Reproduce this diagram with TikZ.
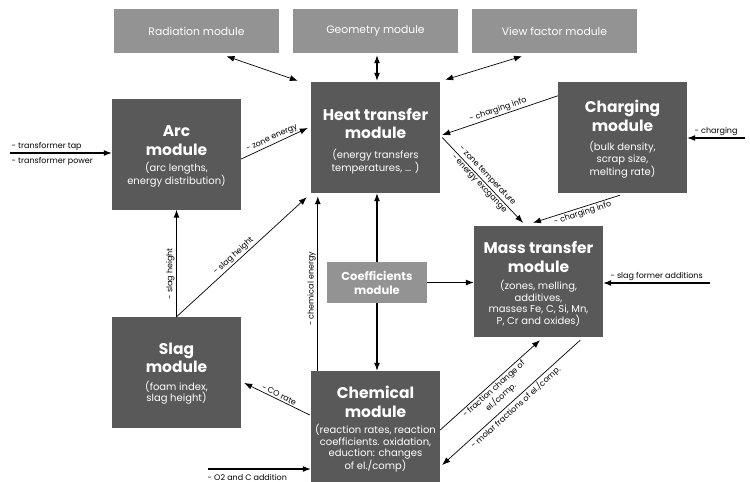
\documentclass[tikz,border=0pt]{standalone}
\usepackage{fontspec}
\setmainfont{Poppins}
\usetikzlibrary{arrows.meta}
\definecolor{darkbox}{HTML}{595959}
\definecolor{lightbox}{HTML}{939393}
\begin{document}
\begin{tikzpicture}[x=1pt,y=-1pt,
  box/.style={fill=darkbox, inner sep=0pt, minimum width=129pt, minimum height=111pt},
  topbox/.style={fill=lightbox, text=white, inner sep=0pt, minimum width=165pt, minimum height=44pt, font=\fontsize{10.8}{13}\selectfont},
  coefbox/.style={fill=lightbox, text=white, inner sep=0pt, minimum width=100pt, minimum height=41pt, align=center, font=\fontsize{11.5}{14}\selectfont\bfseries},
  ttl/.style={text=white, inner sep=0pt, align=center, font=\fontsize{15.5}{18.5}\selectfont\bfseries},
  sub/.style={text=white, inner sep=0pt, align=center, font=\fontsize{10}{11.5}\selectfont},
  tip/.style={-{Latex[length=8pt,width=6pt]}},
  straight/.style={tip, line width=1.1pt},
  slant/.style={tip, line width=0.7pt},
  both/.style={{Latex[length=8pt,width=6pt]}-{Latex[length=8pt,width=6pt]}},
  lab/.style={font=\fontsize{8}{9.5}\selectfont, inner sep=1.5pt, align=center},
]
\useasboundingbox (0,0) rectangle (750,482);

% top modules
\node[topbox] (rad) at (196.5,31) {Radiation module};
\node[topbox] (geo) at (375.5,31) {Geometry module};
\node[topbox] (vf)  at (554.5,31) {View factor module};

% main modules
\node[box] (arc) at (176.5,154) {};
\node[ttl] (arct) at ([yshift=13.5pt]arc.center) {Arc\\module};
\node[sub] (arcs) at ([yshift=-20.5pt]arc.center) {(arc lengths,\\energy distribution)};

\node[box] (heat) at (375.5,137.5) {};
\node[ttl] (heatt) at ([yshift=14pt]heat.center) {Heat transfer\\module};
\node[sub] (heats) at ([yshift=-24pt]heat.center) {(energy transfers\\temperatures, ... )};

\node[box] (chg) at (622.5,137.5) {};
\node[ttl] (chgt) at ([yshift=21.5pt]chg.center) {Charging\\module};
\node[sub] (chgs) at ([yshift=-22pt]chg.center) {(bulk density,\\scrap size,\\melting rate)};

\node[box] (mass) at (538.5,281.5) {};
\node[ttl] (masst) at ([yshift=24.5pt]mass.center) {Mass transfer\\module};
\node[sub] (masss) at ([yshift=-22pt]mass.center) {(zones, melling,\\additives,\\masses Fe, C, Si, Mn,\\P, Cr and oxides)};

\node[coefbox] (coef) at (377,282.5) {Coefficients\\module};

\node[box] (slag) at (176.5,372.5) {};
\node[ttl] (slagt) at ([yshift=14.5pt]slag.center) {Slag\\module};
\node[sub] (slags) at ([yshift=-20pt]slag.center) {(foam index,\\slag height)};

\node[box] (chem) at (375.5,426.5) {};
\node[ttl] (chemt) at ([yshift=24.5pt]chem.center) {Chemical\\module};
\node[sub] (chems) at ([yshift=-22pt]chem.center) {(reaction rates, reaction\\coefficients. oxidation,\\eduction: changes\\of el./comp)};

% free ends
\coordinate (tin) at (10,153);
\coordinate (chin) at (745,138);
\coordinate (sfin) at (710,283);
\coordinate (o2in) at (208,469);

% top connectors
\draw[both, line width=0.7pt] ([xshift=30pt,yshift=-3pt]rad.south) -- ([xshift=-13pt,yshift=1pt]heat.north west);
\draw[both, line width=1.1pt] ([xshift=1.5pt,yshift=-2pt]geo.south) -- ([xshift=1.5pt,yshift=1pt]heat.north);
\draw[both, line width=0.7pt] ([xshift=-32.5pt,yshift=-3pt]vf.south) -- ([xshift=5pt,yshift=2pt]heat.north east);

% external inputs
\draw[straight] (tin) -- (tin -| arc.west);
\node[lab, anchor=west] (tlab1) at (10,146) {- transformer tap};
\node[lab, anchor=west] (tlab2) at (10,161) {- transformer power};

\draw[straight] (chin) -- (chin -| chg.east) node[lab, midway, above] {- charging};
\draw[straight] (sfin) -- (sfin -| mass.east) node[lab, midway, above] {- slag former additions};
\draw[straight] (o2in) -- (o2in -| chem.west);
\node[lab, anchor=west] (o2lab) at (206,477.5) {- O2 and C addition};

% arc / slag / chemical to heat
\draw[slant] ([yshift=-5pt]arc.east) -- node[lab, sloped, above] {- zone energy} ([xshift=-3pt,yshift=9.5pt]heat.west);
\draw[straight] (slag.north) -- node[lab, sloped, above, pos=0.4] {- slag height} (arc.south);
\draw[slant] (slag.north) -- node[lab, sloped, above, pos=0.47] {- slag height} ([xshift=-4pt,yshift=-4pt]heat.south west);
\draw[straight] ([xshift=7pt]chem.north west) -- node[lab, sloped, above, pos=0.47] {- chemical energy} ([xshift=7pt,yshift=-3pt]heat.south west);

% coefficients
\draw[straight] (coef.north) -- (coef.north |- heat.south);
\draw[straight] (coef.south) -- (coef.south |- chem.north);
\draw[straight] (coef.east) -- (coef.east -| mass.west);

% charging
\draw[slant] ([yshift=-14pt]chg.north west) -- node[lab, sloped, above] {- charging info} ([xshift=2pt,yshift=2.5pt]heat.east);
\draw[slant] ([xshift=-2.5pt,yshift=-2pt]chg.south) -- node[lab, sloped, below, pos=0.45] {- charging info} ([xshift=-5.5pt,yshift=3pt]mass.north);

% heat to mass
\draw[slant] ([xshift=2pt]heat.east) -- node[lab, sloped, above, inner sep=2pt] {- zone temperature} node[lab, sloped, below, inner sep=2pt] {- energy excgange} ([xshift=-15.5pt,yshift=3pt]mass.north);

% chemical / mass
\draw[slant] ([yshift=-3.5pt]chem.east) -- node[lab, sloped, below] {- fraction change of\\el./comp.} ([xshift=1.5pt,yshift=-3pt]mass.south);
\draw[slant] ([xshift=-23pt,yshift=-3pt]mass.south east) -- node[lab, sloped, below] {- molar fractions of el./comp.} ([xshift=2pt,yshift=-38.5pt]chem.east);

% chemical to slag
\draw[slant] ([xshift=-1pt,yshift=11.5pt]chem.west) -- node[lab, sloped, above] {- CO rate} ([xshift=3pt,yshift=-10.5pt]slag.east);
\end{tikzpicture}
\end{document}
